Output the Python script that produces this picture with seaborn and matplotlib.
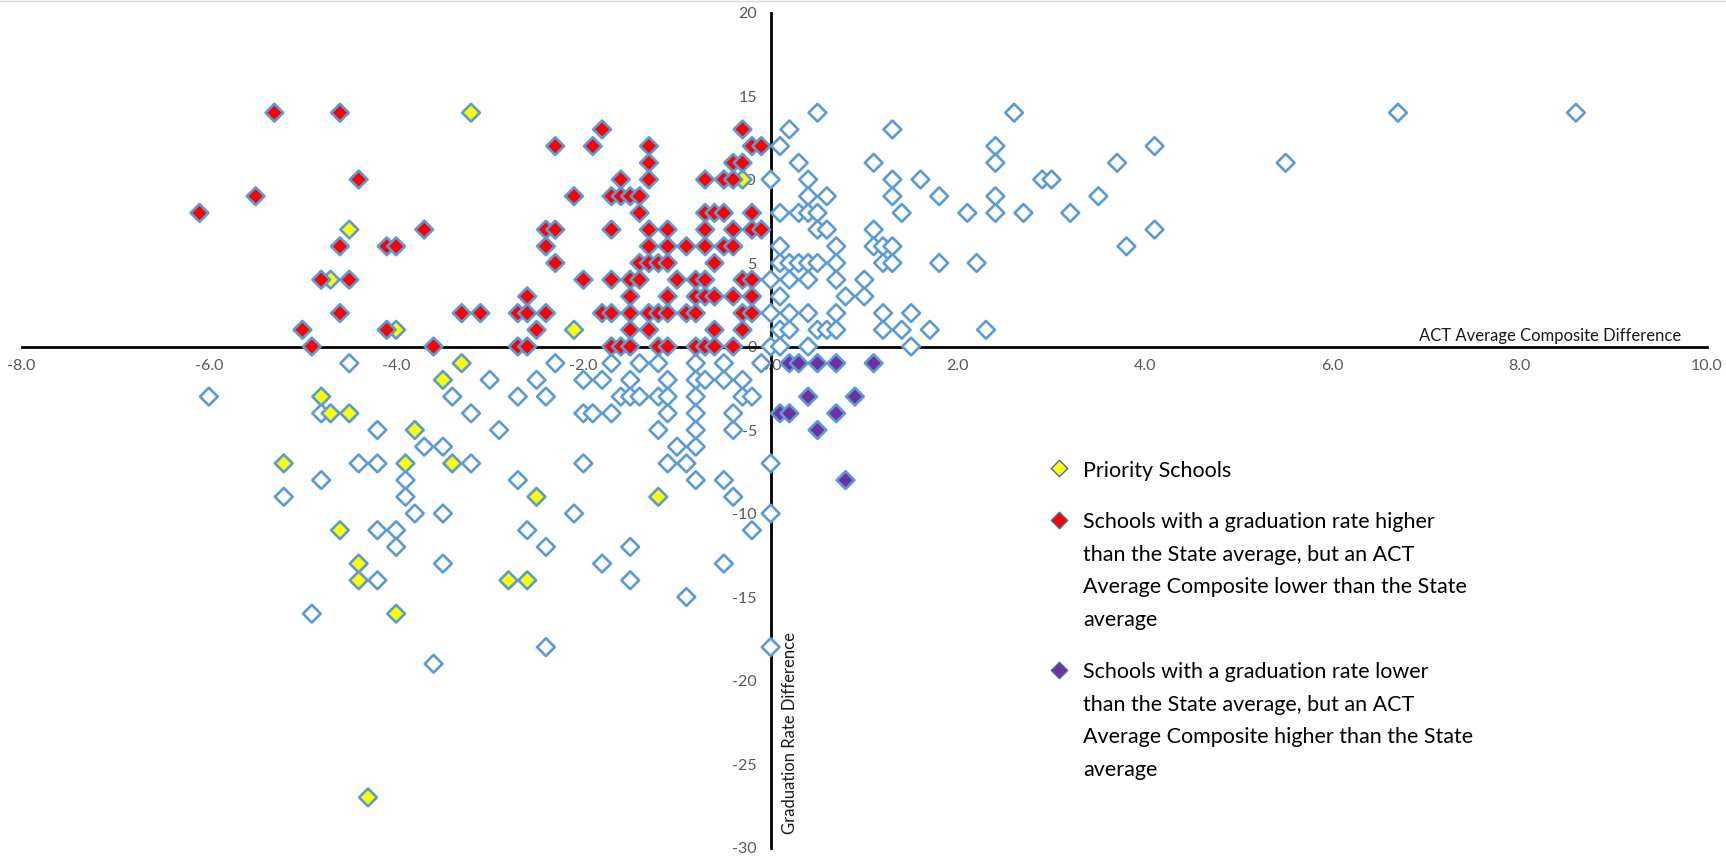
import numpy as np
import pandas as pd
import matplotlib
matplotlib.use("Agg")
import matplotlib.pyplot as plt
import seaborn as sns
from matplotlib.lines import Line2D

# ACT average composite difference (x) / graduation rate difference (y)
other_x = [-4.5, -6.0, -4.8, -5.2, -4.8, -4.4, -4.2, -4.2, -3.0, -3.4, -3.2, -2.7, -2.5, -2.3,
           -2.4, -2.9, -3.7, -3.5, -3.2, -3.9, -3.9, -3.8, -3.5, -4.2, -4.0, -4.0, -3.5, -4.2,
           -2.7, -2.6, -2.4, -2.1, -2.0, -2.0, -1.8, -2.0, -1.9, -1.7, -1.7, -1.5, -1.6, -1.5,
           -1.4, -1.4, -1.2, -1.1, -1.2, -1.1, -1.1, -1.2, -1.0, -1.1, -0.9, -0.8, -0.8, -0.8,
           -0.8, -0.8, -0.8, -0.8, -1.5, -1.8, -1.5, -0.9, -4.9, -3.6, -2.4, 0.0, 0.0, 0.0,
           -0.2, -0.5, -0.5, -0.4, -0.4, -0.4, -0.3, -0.2, -0.3, -0.5, -0.7, -0.5, -0.1,
           0.5, 2.6, 6.7, 8.6, 0.2, 1.3, 0.1, 2.4, 4.1, 0.3, 1.1, 2.4, 3.7, 5.5, 0.0, 0.4,
           1.3, 1.6, 2.9, 3.0, 0.4, 0.6, 1.3, 1.8, 2.4, 3.5, 0.1, 0.3, 0.4, 0.5, 1.4, 2.1,
           2.4, 2.7, 3.2, 0.5, 0.6, 1.1, 4.1, 0.1, 0.7, 1.1, 1.2, 1.3, 3.8, 0.1, 0.2, 0.3,
           0.4, 0.5, 0.7, 1.2, 1.3, 1.8, 2.2, 0.0, 0.2, 0.4, 0.7, 1.0, 0.1, 0.8, 1.0, 0.0,
           0.2, 0.4, 0.7, 1.2, 1.5, 0.1, 0.2, 0.5, 0.6, 0.7, 1.2, 1.4, 1.7, 2.3, 0.0, 0.1,
           0.4, 1.5]
other_y = [-1, -3, -4, -9, -8, -7, -7, -5, -2, -3, -4, -3, -2, -1,
           -3, -5, -6, -6, -7, -8, -9, -10, -10, -11, -11, -12, -13, -14,
           -8, -11, -12, -10, -7, -2, -2, -4, -4, -4, -1, -2, -3, -3,
           -3, -1, -1, -2, -3, -3, -4, -5, -6, -7, -7, -8, -1, -2,
           -3, -4, -5, -6, -12, -13, -14, -15, -16, -19, -18, -18, -7, -10,
           -11, -13, -8, -9, -5, -4, -3, -3, -2, -2, -2, -1, -1,
           14, 14, 14, 14, 13, 13, 12, 12, 12, 11, 11, 11, 11, 11, 10, 10,
           10, 10, 10, 10, 9, 9, 9, 9, 9, 9, 8, 8, 8, 8, 8, 8,
           8, 8, 8, 7, 7, 7, 7, 6, 6, 6, 6, 6, 6, 5, 5, 5,
           5, 5, 5, 5, 5, 5, 5, 4, 4, 4, 4, 4, 3, 3, 3, 2,
           2, 2, 2, 2, 2, 1, 1, 1, 1, 1, 1, 1, 1, 1, 0, 0,
           0, 0]

priority_x = [-3.2, -4.5, -4.7, -0.3, -4.0, -2.1, -3.3, -3.5, -4.8, -4.7, -4.5, -3.8,
              -5.2, -3.9, -3.4, -2.5, -1.2, -4.6, -4.4, -4.4, -2.8, -2.6, -4.0, -4.3]
priority_y = [14, 7, 4, 10, 1, 1, -1, -2, -3, -4, -4, -5,
              -7, -7, -7, -9, -9, -11, -13, -14, -14, -14, -16, -27]

grad_hi_x = [-5.3, -4.6, -1.8, -0.3,
             -2.3, -1.9, -1.3, -0.2, -0.1,
             -1.3, -0.4, -0.3,
             -4.4, -1.6, -1.3, -0.7, -0.5, -0.4,
             -5.5, -2.1, -1.7, -1.6, -1.5, -1.4,
             -6.1, -1.4, -0.7, -0.6, -0.5, -0.2,
             -3.7, -2.4, -2.3, -1.7, -1.3, -1.1, -0.7, -0.4, -0.2, -0.1,
             -4.6, -4.1, -4.0, -2.4, -1.3, -1.1, -0.9, -0.7, -0.5, -0.4,
             -2.3, -1.4, -1.3, -1.2, -1.1, -0.6,
             -4.8, -4.5, -2.0, -1.7, -1.5, -1.4, -1.0, -0.8, -0.7, -0.3, -0.2,
             -2.6, -1.5, -1.1, -0.8, -0.7, -0.6, -0.4, -0.2,
             -4.6, -3.3, -3.1, -2.7, -2.6, -2.4, -1.8, -1.7, -1.5, -1.3, -1.2, -1.1,
             -0.9, -0.8, -0.3, -0.2,
             -5.0, -4.1, -2.5, -1.5, -1.3, -0.6, -0.3,
             -4.9, -3.6, -2.7, -2.6, -1.7, -1.6, -1.5, -1.2, -1.1, -0.8, -0.7, -0.6, -0.4]
grad_hi_y = [14, 14, 13, 13,
             12, 12, 12, 12, 12,
             11, 11, 11,
             10, 10, 10, 10, 10, 10,
             9, 9, 9, 9, 9, 9,
             8, 8, 8, 8, 8, 8,
             7, 7, 7, 7, 7, 7, 7, 7, 7, 7,
             6, 6, 6, 6, 6, 6, 6, 6, 6, 6,
             5, 5, 5, 5, 5, 5,
             4, 4, 4, 4, 4, 4, 4, 4, 4, 4, 4,
             3, 3, 3, 3, 3, 3, 3, 3,
             2, 2, 2, 2, 2, 2, 2, 2, 2, 2, 2, 2,
             2, 2, 2, 2,
             1, 1, 1, 1, 1, 1, 1,
             0, 0, 0, 0, 0, 0, 0, 0, 0, 0, 0, 0, 0]

grad_lo_x = [0.2, 0.3, 0.5, 0.7, 1.1, 0.4, 0.9, 0.1, 0.2, 0.7, 0.5, 0.8]
grad_lo_y = [-1, -1, -1, -1, -1, -3, -3, -4, -4, -4, -5, -8]

groups = ["other", "priority", "grad_hi", "grad_lo"]
colors = {"other": "white", "priority": "#FFFF00", "grad_hi": "#FF0000", "grad_lo": "#7030A0"}

legend_lines = [
    ["Priority Schools"],
    ["Schools with a graduation rate higher", "than the State average, but an ACT",
     "Average Composite lower than the State", "average"],
    ["Schools with a graduation rate lower", "than the State average, but an ACT",
     "Average Composite higher than the State", "average"],
]

df = pd.concat([
    pd.DataFrame({"act": other_x, "grad": other_y, "group": "other"}),
    pd.DataFrame({"act": priority_x, "grad": priority_y, "group": "priority"}),
    pd.DataFrame({"act": grad_hi_x, "grad": grad_hi_y, "group": "grad_hi"}),
    pd.DataFrame({"act": grad_lo_x, "grad": grad_lo_y, "group": "grad_lo"}),
], ignore_index=True)

sns.set_style("white")
plt.rcParams["font.family"] = ["Lato", "DejaVu Sans"]

fig = plt.figure(figsize=(17.26, 8.6), dpi=100)
ax = fig.add_axes([0.0125, 0.01453, 0.9765, 0.97093])

sns.scatterplot(data=df, x="act", y="grad", hue="group", palette=colors, marker="D",
                s=81, edgecolor="#5B9BD5", linewidth=1.9, legend=False, ax=ax, zorder=3)

ax.set_xlim(-8, 10)
ax.set_ylim(-30, 20)
ax.set_xlabel("")
ax.set_ylabel("")

for side in ["top", "right"]:
    ax.spines[side].set_visible(False)
for side in ["left", "bottom"]:
    ax.spines[side].set_position(("data", 0))
    ax.spines[side].set_color("black")
    ax.spines[side].set_linewidth(2)
    ax.spines[side].set_zorder(2)

xt = np.arange(-8, 10.1, 2)
ax.set_xticks(xt)
ax.set_xticklabels([f"{v:.1f}" for v in xt])
yt = np.arange(-30, 21, 5)
ax.set_yticks(yt)
ax.set_yticklabels([str(v) for v in yt])
ax.tick_params(length=0, labelcolor="#595959", labelsize=11.5)
ax.tick_params(axis="x", pad=9)
ax.tick_params(axis="y", pad=10)

ax.text(9.72, 0.15, "ACT Average Composite Difference", ha="right", va="bottom",
        fontsize=12, color="#1a1a1a")
ax.text(0.12, -29.2, "Graduation Rate Difference", rotation=90, ha="left", va="bottom",
        fontsize=12, color="#1a1a1a")

# legend, drawn by hand so the marker sits on the first line
entry_y = [-7.29, -10.39, -19.37]
line_h = 1.94
for g, y0, lines in zip(groups[1:], entry_y, legend_lines):
    ax.scatter([3.08], [y0], marker="D", s=70, color=colors[g], edgecolor="#41719C",
               linewidth=1, zorder=4)
    for i, t in enumerate(lines):
        ax.text(3.34, y0 - i * line_h - 0.5, t, ha="left", va="baseline",
                fontsize=15.5, color="black")

fig.add_artist(Line2D([0, 1], [0.999, 0.999], color="#d9d9d9", lw=1,
                      transform=fig.transFigure))

fig.savefig("out.png", dpi=100)
